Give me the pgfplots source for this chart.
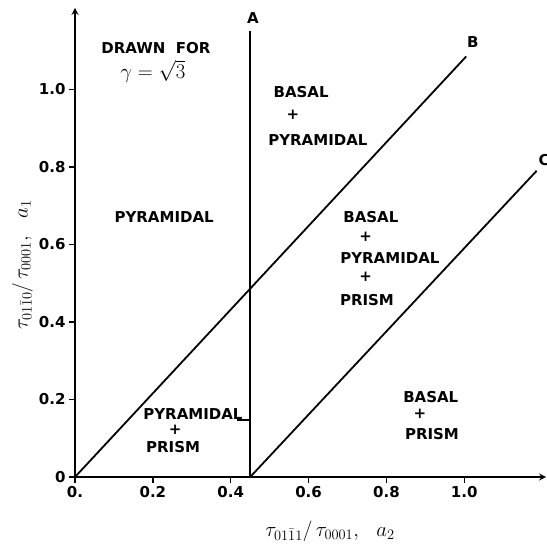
\documentclass[border=0pt]{standalone}
\usepackage{pgfplots}
\pgfplotsset{compat=1.18}
\usepackage{fontspec}
\setmainfont{DejaVu Sans}
\tikzset{lbl/.style={font=\bfseries\fontsize{15}{17}\selectfont}}
\tikzset{biglbl/.style={font=\fontsize{22}{24}\selectfont}}
\begin{document}
\begin{tikzpicture}
\useasboundingbox (-75pt,-77pt) rectangle (471pt,477pt);
\begin{axis}[
  scale only axis, width=471pt, height=469pt,
  xmin=0, xmax=1.21, ymin=0, ymax=1.21,
  axis lines=left,
  axis line style={line width=2pt},
  xtick={0,0.2,0.4,0.6,0.8,1.0},
  xticklabels={0.,0.2,0.4,0.6,0.8,1.0},
  ytick={0,0.2,0.4,0.6,0.8,1.0},
  yticklabels={0,0.2,0.4,0.6,0.8,1.0},
  tick align=outside,
  major tick length=6pt,
  tick style={line width=1.5pt, black},
  ticklabel style={font=\bfseries\fontsize{15}{17}\selectfont},
  clip=false,
]
\addplot[black, line width=1.8pt] coordinates {(0.45,0) (0.45,1.15)};
\addplot[black, line width=1.8pt] coordinates {(0,0) (1.005,1.085)};
\addplot[black, line width=1.8pt] coordinates {(0.45,0) (1.186,0.79)};
\addplot[black, line width=1.2pt] coordinates {(0.415,0.147) (0.45,0.147)};
\node[lbl] at (axis cs:0.457,1.184) {A};
\node[lbl] at (axis cs:1.022,1.122) {B};
\node[lbl] at (axis cs:1.205,0.818) {C};
\node[lbl] at (axis cs:0.208,1.107) {DRAWN\hspace{0.7em}FOR};
\node[biglbl] at (axis cs:0.200,1.047) {$\gamma=\sqrt{3}$};
\node[lbl] at (axis cs:0.229,0.671) {PYRAMIDAL};
\node[lbl] at (axis cs:0.581,0.993) {BASAL};
\node[lbl] at (axis cs:0.560,0.934) {\textbf{+}};
\node[lbl] at (axis cs:0.624,0.869) {PYRAMIDAL};
\node[lbl] at (axis cs:0.760,0.671) {BASAL};
\node[lbl] at (axis cs:0.747,0.619) {\textbf{+}};
\node[lbl] at (axis cs:0.809,0.565) {PYRAMIDAL};
\node[lbl] at (axis cs:0.747,0.516) {\textbf{+}};
\node[lbl] at (axis cs:0.750,0.457) {PRISM};
\node[lbl] at (axis cs:0.914,0.206) {BASAL};
\node[lbl] at (axis cs:0.886,0.163) {\textbf{+}};
\node[lbl] at (axis cs:0.917,0.111) {PRISM};
\node[lbl] at (axis cs:0.303,0.163) {PYRAMIDAL};
\node[lbl] at (axis cs:0.257,0.121) {\textbf{+}};
\node[lbl] at (axis cs:0.252,0.077) {PRISM};
\node[biglbl, rotate=90] at (axis cs:-0.135,0.547) {$\tau_{01\bar{1}0}/\,\tau_{0001},\ \ a_1$};
\node[biglbl] at (axis cs:0.655,-0.14) {$\tau_{01\bar{1}1}/\,\tau_{0001},\ \ a_2$};
\end{axis}
\end{tikzpicture}
\end{document}
